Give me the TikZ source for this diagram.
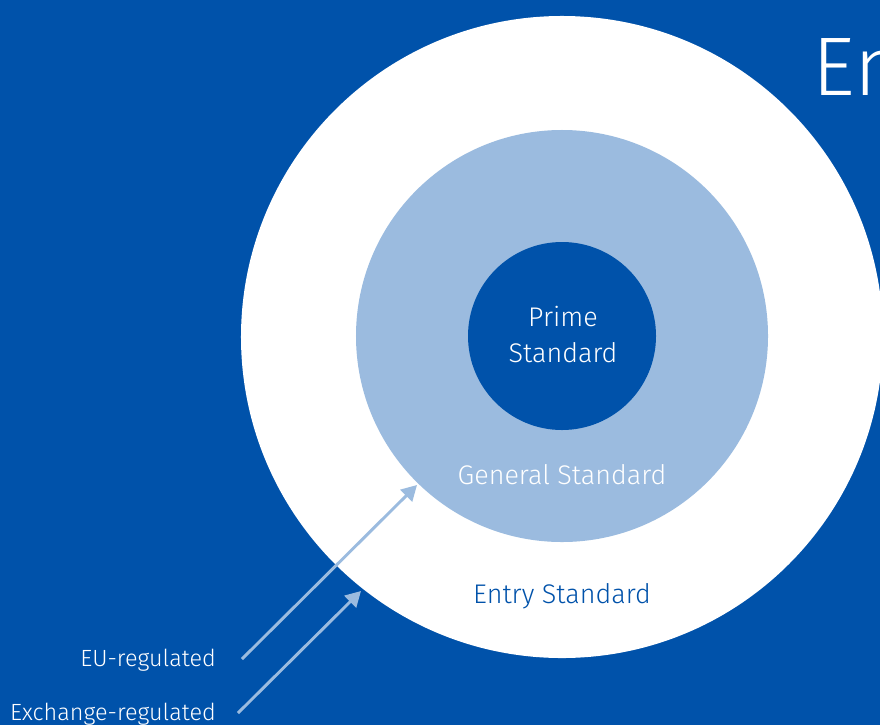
\documentclass[tikz,border=0pt]{standalone}
\usepackage{fontspec}
\setmainfont{Fira Sans Light}
\usetikzlibrary{arrows.meta}
\definecolor{boerseblue}{RGB}{0,82,170}
\definecolor{paleblue}{RGB}{155,187,223}
\tikzset{
	ring/.style={circle, inner sep=0pt, minimum size=#1},
	tier/.style={font=\fontsize{23}{28}\selectfont, anchor=base, inner sep=0pt},
	marker/.style={font=\fontsize{20}{24}\selectfont, text=white, anchor=base east, inner sep=0pt},
	pointer/.style={draw=paleblue, line width=2.5pt, -{Triangle[length=13pt,width=14pt]}}
}

\begin{document}
\begin{tikzpicture}
	[x=0.03cm,y=-0.03cm]
	\useasboundingbox (0,0) rectangle (880,725);
	\fill[boerseblue] (0,0) rectangle (880,725);
	\clip (0,0) rectangle (880,725);
	
	% the three market segments
	\node[ring=19.26cm, fill=white] (entry) at (562,337) {};
	\node[ring=12.36cm, fill=paleblue] (general) at (562,336) {};
	\node[ring=5.64cm, fill=boerseblue] (prime) at (562,336) {};
	
	\node[tier, text=white] (primeA) at (563,326) {Prime};
	\node[tier, text=white] (primeB) at (563,362) {Standard};
	\node[tier, text=white] (generallbl) at (562,484) {General Standard};
	\node[tier, text=boerseblue] (entrylbl) at (562,603) {Entry Standard};
	
	\node[font=\fontsize{71}{80}\selectfont, text=white, anchor=base west, inner sep=0pt] (title) at (812,95) {En};
	
	% regulation labels
	\node[marker] (eu) at (216,666) {EU-regulated};
	\node[marker] (exchange) at (216,720) {Exchange-regulated};
	\coordinate (euTip) at (417,485);
	\coordinate (exTip) at (361,591);
	
	\draw[pointer] ([xshift=0.78cm,yshift=0.21cm]eu.base east) -- (euTip);
	\draw[pointer] ([xshift=0.66cm,yshift=0.21cm]exchange.base east) -- (exTip);
\end{tikzpicture}
\end{document}
